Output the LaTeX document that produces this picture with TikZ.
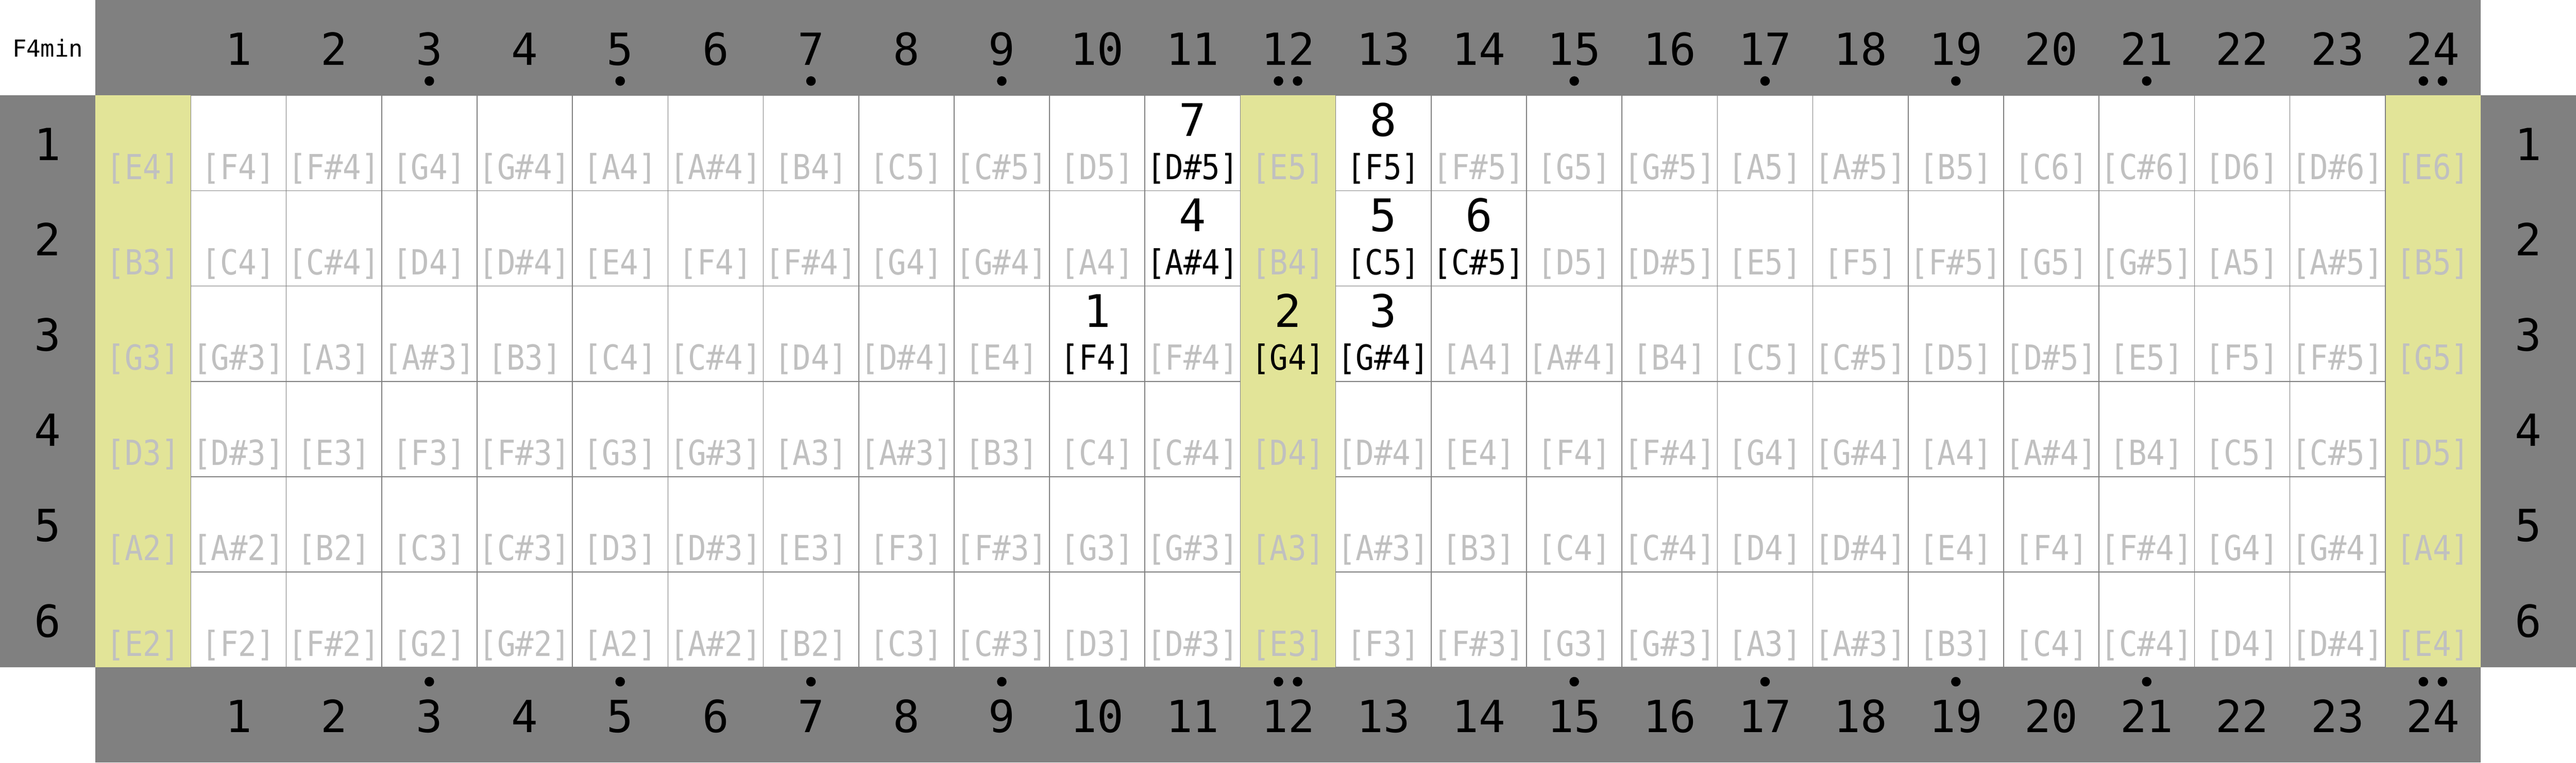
\documentclass[tikz,border=0pt]{standalone}
\usepackage{fontspec}
\setmainfont{DejaVu Sans Mono}
\newfontfamily\notefont[FakeStretch=0.88]{DejaVu Sans Mono}
\newfontfamily\numfont{DejaVu Sans Mono}
\definecolor{barcol}{HTML}{808080}
\definecolor{fretyellow}{HTML}{E2E498}
\definecolor{notegray}{HTML}{C0C0C0}
\definecolor{gridline}{HTML}{808080}
\newcommand\notename[1]{\ifcase#1 C\or C\#\or D\or D\#\or E\or F\or F\#\or G\or G\#\or A\or A\#\or B\fi}
\newcommand\setfinger[3]{\expandafter\def\csname fg@#1@#2\endcsname{#3}}
\setfinger{1}{11}{7}
\setfinger{1}{13}{8}
\setfinger{2}{11}{4}
\setfinger{2}{13}{5}
\setfinger{2}{14}{6}
\setfinger{3}{10}{1}
\setfinger{3}{12}{2}
\setfinger{3}{13}{3}
\tikzset{
  barfill/.style={fill=barcol, draw=none},
  cellbox/.style={fill=white, draw=gridline, line width=0.25pt},
  yellowbox/.style={fill=fretyellow, draw=none},
  notetext/.style={anchor=base, inner sep=0pt, font=\notefont\fontsize{10.3}{12}\selectfont},
  fingertext/.style={anchor=base, inner sep=0pt, font=\numfont\fontsize{13.4}{15}\selectfont},
  numtext/.style={anchor=base, inner sep=0pt, font=\numfont\fontsize{13.2}{15}\selectfont},
  titletext/.style={anchor=base, inner sep=0pt, font=\numfont\fontsize{7}{8}\selectfont},
  inlaydot/.style={fill=black, draw=none},
}
\begin{document}
\begin{tikzpicture}
\useasboundingbox (0,0) rectangle (27,-8);
\fill[white] (0,0) rectangle (27,-8);
% bars
\path[barfill] (1,0) rectangle (26,-1);
\path[barfill] (1,-7) rectangle (26,-8);
\path[barfill] (0,-1) rectangle (1,-7);
\path[barfill] (26,-1) rectangle (27,-7);
% yellow columns (open, 12th and 24th fret)
\path[yellowbox] (1,-1) rectangle (2,-7);
\path[yellowbox] (13,-1) rectangle (14,-7);
\path[yellowbox] (25,-1) rectangle (26,-7);
% white cells
\foreach \s in {1,...,6} {
  \foreach \f in {1,...,11,13,14,...,23} {
    \path[cellbox] (1+\f,-\s) rectangle (2+\f,-\s-1);
  }
}
% notes
\foreach \s/\o in {1/64,2/59,3/55,4/50,5/45,6/40} {
  \foreach \f in {0,...,24} {
    \pgfmathtruncatemacro\m{\o+\f}
    \pgfmathtruncatemacro\pc{mod(\m,12)}
    \pgfmathtruncatemacro\oc{floor(\m/12)-1}
    \ifcsname fg@\s @\f\endcsname
      \node[notetext, text=black] (n-\s-\f) at (1.5+\f,-\s-0.88) {[\notename{\pc}\oc]};
      \node[fingertext] (fg-\s-\f) at (1.5+\f,-\s-0.43) {\csname fg@\s @\f\endcsname};
    \else
      \node[notetext, text=notegray] (n-\s-\f) at (1.5+\f,-\s-0.88) {[\notename{\pc}\oc]};
    \fi
  }
}
% fret numbers
\foreach \f in {1,...,24} {
  \node[numtext] (t\f) at (1.5+\f,-0.685) {\f};
  \node[numtext] (b\f) at (1.5+\f,-7.68) {\f};
}
% inlay dots
\foreach \f in {3,5,7,9,15,17,19,21} {
  \path[inlaydot] (1.5+\f,-0.85) circle (0.05);
  \path[inlaydot] (1.5+\f,-7.15) circle (0.05);
}
\foreach \f in {12,24} {
  \path[inlaydot] (1.4+\f,-0.85) circle (0.05);
  \path[inlaydot] (1.6+\f,-0.85) circle (0.05);
  \path[inlaydot] (1.4+\f,-7.15) circle (0.05);
  \path[inlaydot] (1.6+\f,-7.15) circle (0.05);
}
% string numbers
\foreach \s in {1,...,6} {
  \node[numtext] (sl\s) at (0.5,-\s-0.68) {\s};
  \node[numtext] (sr\s) at (26.5,-\s-0.68) {\s};
}
\node[titletext] (title) at (0.5,-0.595) {F4min};
\end{tikzpicture}
\end{document}
